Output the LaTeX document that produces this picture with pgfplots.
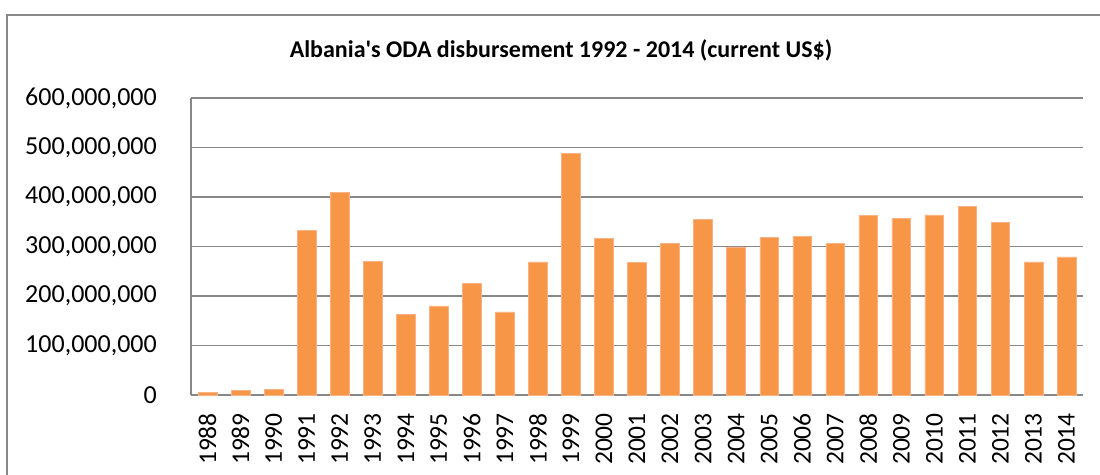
\documentclass[border=0pt]{standalone}
\usepackage{fontspec}
\setmainfont{Carlito}[Ligatures=TeXOff]
\usepackage{pgfplots}
\pgfplotsset{compat=1.18}
\definecolor{barc}{HTML}{F79646}
\definecolor{baredge}{HTML}{FAB384}
\definecolor{gridc}{HTML}{888888}
\definecolor{framec}{HTML}{888888}
\pgfplotstableread{
x year value
0 1988 5000000
1 1989 10000000
2 1990 11000000
3 1991 332000000
4 1992 409000000
5 1993 270000000
6 1994 163000000
7 1995 180000000
8 1996 226000000
9 1997 168000000
10 1998 269000000
11 1999 488000000
12 2000 317000000
13 2001 268000000
14 2002 306000000
15 2003 355000000
16 2004 299000000
17 2005 318000000
18 2006 321000000
19 2007 306000000
20 2008 363000000
21 2009 357000000
22 2010 364000000
23 2011 381000000
24 2012 349000000
25 2013 269000000
26 2014 279000000
}\odadata
\begin{document}
\begin{tikzpicture}[x=1bp,y=1bp]
\path[use as bounding box] (0,0) rectangle (1100,-475);
\draw[framec, line width=1.5bp] (7,-476) -- (7,-15) -- (1101,-15);
\node[anchor=base, inner sep=0pt, font=\fontsize{24bp}{28bp}\selectfont\bfseries] at (561,-58) {Albania's ODA disbursement 1992 - 2014 (current US\$)};
\begin{axis}[
  at={(191bp,-395bp)}, anchor=south west,
  scale only axis, width=892bp, height=297bp,
  xmin=-0.5, xmax=26.5, ymin=0, ymax=600000000,
  axis lines=left,
  axis line style={-, draw=gridc, line width=1.5bp},
  ymajorgrids, major grid style={draw=gridc, line width=1.5bp},
  major tick length=0pt,
  scaled y ticks=false,
  ytick={0,100000000,200000000,300000000,400000000,500000000,600000000},
  yticklabels={{0},{100,000,000},{200,000,000},{300,000,000},{400,000,000},{500,000,000},{600,000,000}},
  xtick=data,
  xticklabels from table={\odadata}{year},
  /pgf/number format/assume math mode=true,
  yticklabel style={anchor=east, inner sep=0pt, font=\fontsize{26bp}{30bp}\selectfont},
  yticklabel shift=34bp,
  xticklabel style={rotate=90, anchor=east, inner sep=0pt, font=\fontsize{25.5bp}{30bp}\selectfont},
  xticklabel shift=18bp,
]
\addplot[ybar, bar width=18.7bp, fill=barc, draw=baredge, line width=0.6bp] table[x=x, y=value] {\odadata};
\end{axis}
\end{tikzpicture}
\end{document}
